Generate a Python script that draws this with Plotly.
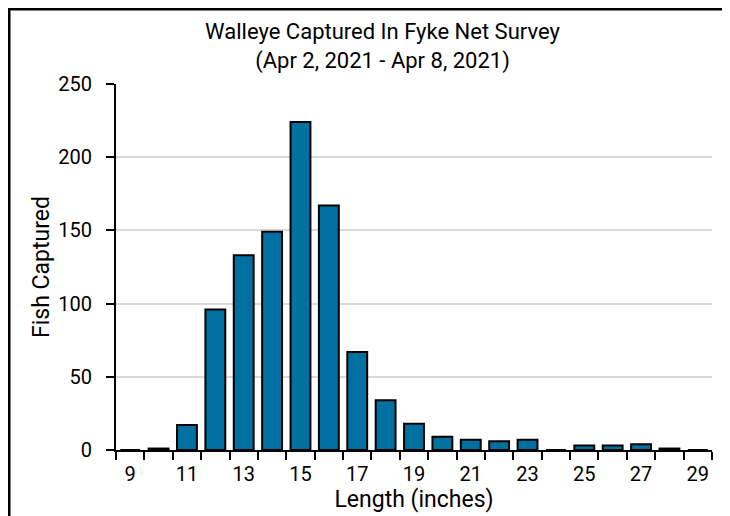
import plotly.graph_objects as go

# walleye counts per length class (inches)
lengths = [str(n) for n in range(9, 30)]
counts = [0, 1, 17, 96, 133, 149, 224, 167, 67, 34, 18, 9, 7, 6, 7, 0, 3, 3, 4, 1, 0]
tick_text = [l if int(l) % 2 == 1 else "" for l in lengths]

FONT = "Roboto, Lato, sans-serif"

fig = go.Figure(go.Bar(
    x=lengths, y=counts,
    marker=dict(color="#0070a0", line=dict(color="black", width=2)),
))

fig.update_layout(
    width=730, height=516,
    margin=dict(l=108, r=26, t=76, b=74),
    paper_bgcolor="white", plot_bgcolor="white",
    font=dict(family=FONT, size=20, color="black"),
    bargap=0.3,
    showlegend=False,
    title=dict(text="Walleye Captured In Fyke Net Survey<br>(Apr 2, 2021 - Apr 8, 2021)",
               x=0.513, xanchor="center", y=0.939, yanchor="top",
               font=dict(size=22)),
)

fig.update_xaxes(
    type="category", tickvals=lengths, ticktext=tick_text, tickangle=0,
    tickson="boundaries", ticks="outside", ticklen=8, tickwidth=2, tickcolor="black",
    ticklabelstandoff=5,
    showline=True, linecolor="black", linewidth=2, showgrid=False,
    title=dict(text="Length (inches)", standoff=1, font=dict(size=23)),
)
fig.update_yaxes(
    range=[0, 250], dtick=50, ticks="outside", ticklen=8, tickwidth=2, tickcolor="black",
    ticklabelstandoff=10,
    showline=True, linecolor="black", linewidth=2,
    showgrid=True, gridcolor="#d9d9d9", gridwidth=2, zeroline=False,
    title=dict(text="Fish Captured", standoff=2, font=dict(size=23)),
)

# outer frame around the chart
fig.add_shape(type="rect", xref="paper", yref="paper",
              x0=-0.1795, x1=1.0218, y0=-0.4, y1=1.205,
              line=dict(color="black", width=3), fillcolor="rgba(0,0,0,0)")

fig.write_html("out.html")
